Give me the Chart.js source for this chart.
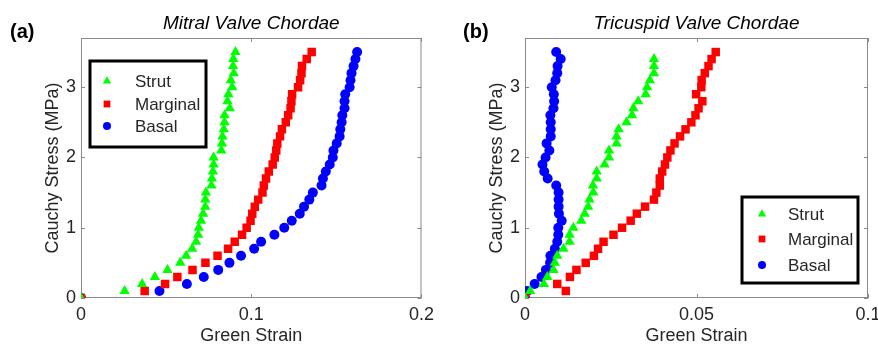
<!DOCTYPE html>
<html>
<head>
<meta charset="utf-8">
<script src="https://cdn.jsdelivr.net/npm/chart.js@4.4.1/dist/chart.umd.min.js"></script>
<style>
html, body { margin: 0; padding: 0; background: #fff; overflow: hidden; width: 878px; height: 344px; }
#mitral { position: absolute; left: 0; top: 0; }
#tricuspid { position: absolute; left: 440px; top: 0; }
</style>
</head>
<body>
<canvas id="mitral" width="440" height="344"></canvas>
<canvas id="tricuspid" width="470" height="344"></canvas>
<script>
// Cauchy stress levels (MPa), shared by every series
const stressMPa = [0, 0.1, 0.2, 0.3, 0.4, 0.5, 0.6, 0.7, 0.8, 0.9, 1.0, 1.1, 1.2, 1.3, 1.4, 1.5, 1.6, 1.7,
    1.8, 1.9, 2.0, 2.1, 2.2, 2.3, 2.4, 2.5, 2.6, 2.7, 2.8, 2.9, 3.0, 3.1, 3.2, 3.3, 3.4, 3.5];

const seriesNames = ['Strut', 'Marginal', 'Basal'];

// (a) Mitral valve chordae - Green strain
const mitralStrut = [0, 0.0256, 0.0359, 0.0434, 0.0508, 0.0583, 0.0618, 0.0653, 0.0676, 0.0688, 0.0692,
    0.0705, 0.0717, 0.073, 0.073, 0.0734, 0.0766, 0.0769, 0.0775, 0.0779, 0.0779, 0.0824, 0.0828, 0.0831,
    0.0839, 0.0843, 0.0843, 0.0874, 0.086, 0.0866, 0.0888, 0.088, 0.0897, 0.0893, 0.0895, 0.0907];
const mitralMarginal = [0, 0.0374, 0.0494, 0.0566, 0.0655, 0.0731, 0.0802, 0.0864, 0.0903, 0.0946, 0.0973,
    0.0996, 0.1006, 0.1021, 0.1041, 0.1066, 0.1074, 0.1087, 0.1103, 0.1126, 0.1138, 0.1147, 0.1153, 0.1169,
    0.118, 0.1203, 0.1217, 0.1231, 0.1236, 0.124, 0.1275, 0.1287, 0.1295, 0.1298, 0.1326, 0.1355];
const mitralBasal = [0, 0.0461, 0.0622, 0.0721, 0.0806, 0.0872, 0.094, 0.1017, 0.1058, 0.1136, 0.1194,
    0.1238, 0.1285, 0.131, 0.1341, 0.1362, 0.1413, 0.1421, 0.1438, 0.1461, 0.1479, 0.1483, 0.1502, 0.1519,
    0.1523, 0.1531, 0.1535, 0.1548, 0.1548, 0.1552, 0.1578, 0.1583, 0.1589, 0.1601, 0.1612, 0.1622];

// (b) Tricuspid valve chordae - Green strain
const tricuspidStrut = [0, 0.0015, 0.0055, 0.0065, 0.0083, 0.0087, 0.0094, 0.0112, 0.013, 0.013, 0.0141,
    0.0164, 0.0174, 0.0184, 0.0188, 0.0199, 0.0198, 0.0209, 0.0209, 0.0232, 0.0245, 0.0245, 0.0267, 0.0267,
    0.0273, 0.0296, 0.0312, 0.0316, 0.033, 0.0352, 0.0356, 0.0364, 0.0376, 0.0376, 0.0376];
const tricuspidMarginal = [0, 0.0119, 0.0094, 0.0131, 0.015, 0.0177, 0.0201, 0.0213, 0.0229, 0.0258, 0.0283,
    0.0308, 0.0326, 0.035, 0.0376, 0.0383, 0.0393, 0.0393, 0.04, 0.0408, 0.0415, 0.0424, 0.0436, 0.0452,
    0.0468, 0.0485, 0.0497, 0.0506, 0.0517, 0.0499, 0.0514, 0.0515, 0.0524, 0.0535, 0.0544, 0.0556];
const tricuspidBasal = [0, 0.0007, 0.0028, 0.0048, 0.0061, 0.0073, 0.0074, 0.0087, 0.0094, 0.0097, 0.0097,
    0.0107, 0.0099, 0.0098, 0.0098, 0.0098, 0.0091, 0.0066, 0.0056, 0.0051, 0.006, 0.0071, 0.0063, 0.0075,
    0.0075, 0.0075, 0.0074, 0.0083, 0.0085, 0.0084, 0.0078, 0.0089, 0.0094, 0.0095, 0.0104, 0.0091];

const FONT = "'Liberation Sans', Arial, sans-serif";
const TEXT = '#262626';

const markers = [
    { pointStyle: 'triangle', radius: 6, color: '#00ff00' },
    { pointStyle: 'rect', radius: 6, color: '#ff0000' },
    { pointStyle: 'circle', radius: 5, color: '#0000ff' }
];

function pairs(strain) {
    return strain.map((s, i) => ({ x: s, y: stressMPa[i] }));
}

function makeDatasets(lists) {
    return lists.map((list, i) => ({
        label: seriesNames[i],
        data: pairs(list),
        pointStyle: markers[i].pointStyle,
        pointRadius: markers[i].radius,
        pointHoverRadius: markers[i].radius,
        pointBackgroundColor: markers[i].color,
        pointBorderWidth: 0,
        showLine: false
    }));
}

// box, inward ticks, title, panel letter and boxed legend
const framePlugin = {
    id: 'frame',
    beforeDatasetsDraw(chart) {
        const { ctx, chartArea: a, scales: { x, y } } = chart;
        ctx.save();
        ctx.strokeStyle = '#8a8a8a';
        ctx.lineWidth = 1;
        ctx.strokeRect(a.left + 0.5, a.top + 0.5, a.right - a.left - 1, a.bottom - a.top - 1);
        ctx.beginPath();
        x.ticks.forEach(t => {
            const px = Math.round(x.getPixelForValue(t.value)) + 0.5;
            ctx.moveTo(px, a.bottom); ctx.lineTo(px, a.bottom - 4);
            ctx.moveTo(px, a.top); ctx.lineTo(px, a.top + 4);
        });
        y.ticks.forEach(t => {
            const py = Math.round(y.getPixelForValue(t.value)) + 0.5;
            ctx.moveTo(a.left, py); ctx.lineTo(a.left + 4, py);
            ctx.moveTo(a.right, py); ctx.lineTo(a.right - 4, py);
        });
        ctx.stroke();
        ctx.restore();
    },
    afterDraw(chart, args, opts) {
        const { ctx, chartArea: a } = chart;
        ctx.save();
        ctx.fillStyle = '#000';
        ctx.textBaseline = 'middle';
        ctx.textAlign = 'center';
        ctx.font = 'italic 19px ' + FONT;
        ctx.fillText(opts.title, (a.left + a.right) / 2, 24);
        ctx.textAlign = 'left';
        ctx.font = 'bold 20px ' + FONT;
        ctx.fillText(opts.panel, opts.panelX, 32);

        const lg = opts.legend;
        ctx.fillStyle = '#fff';
        ctx.fillRect(lg.x, lg.y, lg.w, lg.h);
        ctx.strokeStyle = '#000';
        ctx.lineWidth = 3;
        ctx.strokeRect(lg.x, lg.y, lg.w, lg.h);
        chart.data.datasets.forEach((ds, i) => {
            const cy = lg.rows[i];
            ctx.fillStyle = ds.pointBackgroundColor;
            Chart.helpers.drawPoint(ctx, { pointStyle: ds.pointStyle, radius: ds.pointRadius * 0.8, borderWidth: 0, rotation: 0 }, lg.markerX, cy);
            ctx.fillStyle = TEXT;
            ctx.font = '17px ' + FONT;
            ctx.fillText(ds.label, lg.textX, cy + 1);
        });
        ctx.restore();
    }
};

function makeChart(id, lists, xMax, xStep, yAxisWidth, rightPad, yTitlePad, frame) {
    return new Chart(document.getElementById(id), {
        type: 'scatter',
        data: { datasets: makeDatasets(lists) },
        plugins: [framePlugin],
        options: {
            responsive: false,
            animation: false,
            layout: { padding: { left: 0, top: 38, right: rightPad, bottom: 0 } },
            plugins: {
                legend: { display: false },
                tooltip: { enabled: false },
                frame: frame
            },
            scales: {
                x: {
                    type: 'linear',
                    min: 0,
                    max: xMax,
                    grid: { display: false, drawTicks: false },
                    border: { display: false },
                    ticks: {
                        stepSize: xStep,
                        includeBounds: false,
                        maxRotation: 0,
                        autoSkip: false,
                        padding: 6,
                        color: TEXT,
                        font: { family: FONT, size: 18 },
                        callback: v => String(Number(v.toFixed(3)))
                    },
                    title: {
                        display: true,
                        text: 'Green Strain',
                        color: TEXT,
                        font: { family: FONT, size: 18, lineHeight: 1 },
                        padding: { top: 0, bottom: -1 }
                    },
                    afterFit: s => { s.height = 46; }
                },
                y: {
                    type: 'linear',
                    min: 0,
                    max: 3.7,
                    grid: { display: false, drawTicks: false },
                    border: { display: false },
                    ticks: {
                        stepSize: 1,
                        includeBounds: false,
                        padding: 5,
                        color: TEXT,
                        font: { family: FONT, size: 18 }
                    },
                    title: {
                        display: true,
                        text: 'Cauchy Stress (MPa)',
                        color: TEXT,
                        font: { family: FONT, size: 18, lineHeight: 1 },
                        padding: { top: yTitlePad, bottom: 0 }
                    },
                    afterFit: s => { s.width = yAxisWidth; }
                }
            }
        }
    });
}

makeChart('mitral', [mitralStrut, mitralMarginal, mitralBasal], 0.2, 0.1, 81, 15, 44, {
    title: 'Mitral Valve Chordae',
    panel: '(a)',
    panelX: 10,
    legend: { x: 90, y: 61, w: 116, h: 86, markerX: 107, textX: 135, rows: [81, 104, 126] }
});

makeChart('tricuspid', [tricuspidStrut, tricuspidMarginal, tricuspidBasal], 0.1, 0.05, 85, 42, 48, {
    title: 'Tricuspid Valve Chordae',
    panel: '(b)',
    panelX: 23,
    legend: { x: 302, y: 197, w: 116, h: 86, markerX: 322, textX: 348, rows: [214, 239, 265] }
});
</script>
</body>
</html>
